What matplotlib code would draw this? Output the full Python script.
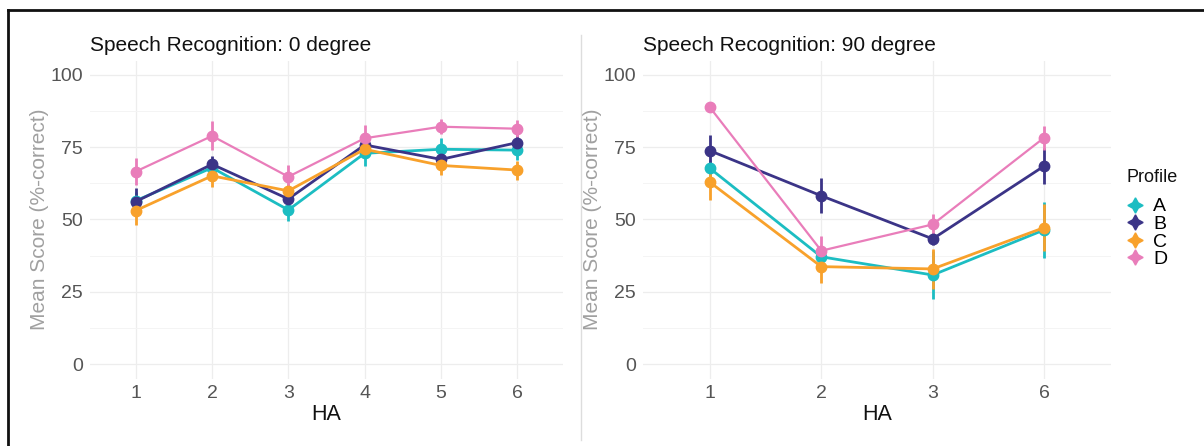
import numpy as np
import matplotlib
matplotlib.use("Agg")
import matplotlib.pyplot as plt
from matplotlib.lines import Line2D

plt.rcParams['font.family'] = ['Liberation Sans', 'DejaVu Sans']

# Data
profiles = ['A', 'B', 'C', 'D']
colors = ['#1CBDC2', '#3B3487', '#F8A12B', '#E97DBA']

ha_0 = ['1', '2', '3', '4', '5', '6']
mean_0 = {
    'A': [56.5, 67.9, 53.3, 72.9, 74.3, 74.0],
    'B': [56.2, 69.1, 57.1, 75.8, 70.8, 76.6],
    'C': [53.1, 65.1, 59.9, 74.3, 68.7, 67.1],
    'D': [66.6, 78.9, 64.8, 78.1, 82.1, 81.4],
}
err_0 = {
    'A': [3.0, 3.0, 3.7, 4.4, 3.8, 3.5],
    'B': [4.6, 3.0, 2.5, 3.0, 2.5, 2.5],
    'C': [5.0, 3.7, 2.5, 2.5, 3.3, 3.3],
    'D': [4.8, 5.0, 4.0, 4.5, 2.5, 3.0],
}

ha_90 = ['1', '2', '3', '6']
mean_90 = {
    'A': [67.7, 37.1, 30.8, 46.4],
    'B': [73.8, 58.2, 43.3, 68.5],
    'C': [62.9, 33.7, 32.9, 47.2],
    'D': [88.8, 39.2, 48.3, 78.3],
}
err_90 = {
    'A': [3.0, 3.0, 8.4, 9.6],
    'B': [5.6, 6.0, 2.0, 6.2],
    'C': [6.0, 5.5, 7.0, 8.0],
    'D': [1.5, 5.0, 3.5, 4.2],
}

W, H = 1204, 446
fig = plt.figure(figsize=(W / 100, H / 100), dpi=100)


def px_axes(x0, x1, y0, y1):
    return fig.add_axes([x0 / W, 1 - y1 / H, (x1 - x0) / W, (y1 - y0) / H])


def panel(ax, cats, means, errs, title):
    x = np.arange(1, len(cats) + 1)
    for p, c in zip(profiles, colors):
        lw = 1.6 if p == 'D' else 2.0
        ax.errorbar(x, means[p], yerr=errs[p], color=c, lw=lw, elinewidth=2.0,
                    marker='o', ms=7.5, capsize=0, zorder=3)
    ax.set_xlim(0.4, len(cats) + 0.6)
    ax.set_ylim(-5, 105)
    ax.set_xticks(x)
    ax.set_xticklabels(cats)
    ax.set_yticks([0, 25, 50, 75, 100])
    ax.set_yticks([12.5, 37.5, 62.5, 87.5], minor=True)
    ax.grid(which='major', color='#EDEDED', lw=0.9)
    ax.grid(which='minor', axis='y', color='#F4F4F4', lw=0.7)
    ax.set_axisbelow(True)
    for s in ax.spines.values():
        s.set_visible(False)
    ax.tick_params(which='both', length=0, labelsize=14, labelcolor='#555555', pad=5)
    ax.set_xlabel('HA', fontsize=15.5, color='#111111', labelpad=1)
    ax.set_ylabel('Mean Score (%-correct)', fontsize=15, color='#A0A0A0', labelpad=1)
    ax.set_title(title, fontsize=15, loc='left', x=0.0, pad=7, color='#111111')


ax1 = px_axes(90, 563, 60.5, 378.5)
panel(ax1, ha_0, mean_0, err_0, 'Speech Recognition: 0 degree')
ax2 = px_axes(643, 1111, 60.5, 378.5)
panel(ax2, ha_90, mean_90, err_90, 'Speech Recognition: 90 degree')

# legend
handles = [Line2D([], [], color=c, marker=(4, 1, 0), ms=11, lw=0) for c in colors]
fig.text(1127 / W, 1 - 178 / H, 'Profile', fontsize=13, color='#111111',
         ha='left', va='center')
fig.legend(handles, profiles, loc='upper left',
           bbox_to_anchor=(1116 / W, 1 - 188 / H), frameon=False,
           fontsize=14, handlelength=1.0, handletextpad=0.4,
           labelspacing=0.0, borderpad=0)

# frame and separator as in the reference
fig.add_artist(Line2D([8 / W, 1], [1 - 10 / H, 1 - 10 / H], color='#111111', lw=2))
fig.add_artist(Line2D([8 / W, 8 / W], [0, 1 - 10 / H], color='#111111', lw=2))
fig.add_artist(Line2D([581 / W, 581 / W], [1 - 440 / H, 1 - 35 / H], color='#DDDDDD', lw=1))

fig.savefig('out.png', dpi=100)
